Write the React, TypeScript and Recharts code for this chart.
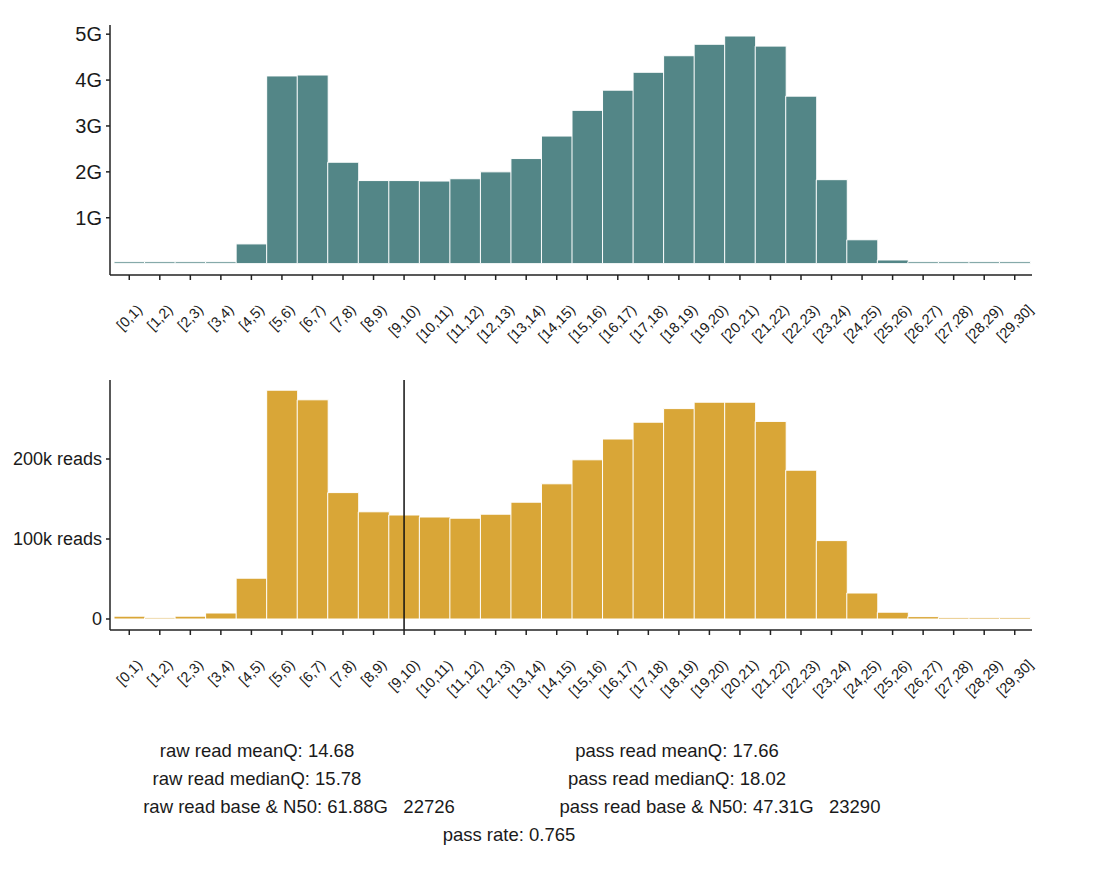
import React from "react";
import { Bar, BarChart, ReferenceLine, XAxis, YAxis } from "recharts";

// quality score bins
const bins = [
  "[0,1)", "[1,2)", "[2,3)", "[3,4)", "[4,5)", "[5,6)", "[6,7)", "[7,8)", "[8,9)", "[9,10)",
  "[10,11)", "[11,12)", "[12,13)", "[13,14)", "[14,15)", "[15,16)", "[16,17)", "[17,18)", "[18,19)", "[19,20)",
  "[20,21)", "[21,22)", "[22,23)", "[23,24)", "[24,25)", "[25,26)", "[26,27)", "[27,28)", "[28,29)", "[29,30]",
];

// raw bases per bin, in G
const rawBasesG = [
  0.04, 0.04, 0.04, 0.04, 0.43, 4.09, 4.11, 2.21, 1.81, 1.81,
  1.8, 1.85, 2.0, 2.29, 2.78, 3.34, 3.78, 4.17, 4.53, 4.78,
  4.96, 4.74, 3.65, 1.83, 0.52, 0.08, 0.04, 0.04, 0.04, 0.04,
];

// pass reads per bin, in thousands
const passReadsK = [
  3.5, 1.5, 3.5, 7.5, 51, 286, 274, 158, 134, 130,
  127.5, 126, 131, 146, 169, 199, 225, 246, 263, 271,
  271, 247, 186, 98, 32.5, 8.5, 3, 2, 2, 2,
];

const baseTicks = [1e9, 2e9, 3e9, 4e9, 5e9];
const readTicks = [0, 100000, 200000];
const cutoffBin = "[9,10)";

const leftNotes = ["raw read meanQ: 14.68", "raw read medianQ: 15.78", "raw read base & N50: 61.88G   22726"];
const rightNotes = ["pass read meanQ: 17.66", "pass read medianQ: 18.02", "pass read base & N50: 47.31G   23290"];
const passRateNote = "pass rate: 0.765";

const data = bins.map((bin, i) => ({
  bin,
  bases: rawBasesG[i] * 1e9,
  reads: passReadsK[i] * 1000,
}));

const FONT = "'Liberation Sans', Arial, Helvetica, sans-serif";
const TEAL = "#538687";
const GOLD = "#D9A637";
const AXIS = "#222";

const narrow: Record<string, number> = { "[": 0.278, "]": 0.278, ")": 0.333, ",": 0.278 };
function labelWidth(s: string, fs: number) {
  let w = 0;
  for (const c of s) w += narrow[c] ?? 0.556;
  return w * fs;
}

function BinTick(props: any) {
  const { x, y, payload } = props;
  const fs = 14.5;
  const w = labelWidth(payload.value, fs);
  const cy = y + 22 + (w + fs) * 0.3536;
  return (
    <text
      x={x}
      y={cy}
      textAnchor="middle"
      dominantBaseline="central"
      transform={`rotate(-45, ${x}, ${cy})`}
      fontSize={fs}
      fontFamily={FONT}
      fill="#1a1a1a"
    >
      {payload.value}
    </text>
  );
}

const noteStyle = { whiteSpace: "pre" as const };

export default function App() {
  return (
    <div style={{ position: "absolute", left: 0, top: 0, width: 1112, height: 888, background: "#fff" }}>
      <div style={{ position: "absolute", left: 0, top: 0 }}>
        <BarChart width={1112} height={360} data={data} margin={{ top: 25, right: 80, bottom: 15, left: 0 }} barCategoryGap={0}>
          <XAxis
            dataKey="bin"
            interval={0}
            tick={<BinTick />}
            tickSize={5}
            tickMargin={0}
            height={70}
            padding={{ left: 4, right: 2 }}
            stroke={AXIS}
            strokeWidth={1.5}
          />
          <YAxis
            width={110}
            domain={[-0.2475e9, 5.2e9]}
            ticks={baseTicks}
            tickFormatter={(v: number) => `${v / 1e9}G`}
            tick={{ fontSize: 20, fontFamily: FONT, fill: "#1a1a1a" }}
            tickSize={4}
            tickMargin={4}
            stroke={AXIS}
            strokeWidth={1.5}
          />
          <Bar dataKey="bases" fill={TEAL} stroke="#fff" strokeWidth={1} isAnimationActive={false} />
        </BarChart>
      </div>
      <div style={{ position: "absolute", left: 0, top: 360 }}>
        <BarChart width={1112} height={360} data={data} margin={{ top: 20, right: 80, bottom: 20, left: 0 }} barCategoryGap={0}>
          <XAxis
            dataKey="bin"
            interval={0}
            tick={<BinTick />}
            tickSize={5}
            tickMargin={0}
            height={70}
            padding={{ left: 4, right: 2 }}
            stroke={AXIS}
            strokeWidth={1.5}
          />
          <YAxis
            width={110}
            domain={[-13750, 298750]}
            ticks={readTicks}
            tickFormatter={(v: number) => (v === 0 ? "0" : `${v / 1000}k reads`)}
            tick={{ fontSize: 18, fontFamily: FONT, fill: "#1a1a1a" }}
            tickSize={4}
            tickMargin={4}
            stroke={AXIS}
            strokeWidth={1.5}
          />
          <Bar dataKey="reads" fill={GOLD} stroke="#fff" strokeWidth={1} isAnimationActive={false} />
          <ReferenceLine x={cutoffBin} stroke="#111" strokeWidth={1.5} />
        </BarChart>
      </div>
      <svg width={1112} height={888} style={{ position: "absolute", left: 0, top: 0, pointerEvents: "none" }}>
        <g fontFamily={FONT} fontSize={18.5} fill="#1a1a1a" textAnchor="middle">
          <text x={257} y={757} style={noteStyle}>{leftNotes[0]}</text>
          <text x={257} y={785} style={noteStyle}>{leftNotes[1]}</text>
          <text x={299} y={813} style={noteStyle}>{leftNotes[2]}</text>
          <text x={677} y={757} style={noteStyle}>{rightNotes[0]}</text>
          <text x={677} y={785} style={noteStyle}>{rightNotes[1]}</text>
          <text x={720} y={813} style={noteStyle}>{rightNotes[2]}</text>
          <text x={509} y={841} style={noteStyle}>{passRateNote}</text>
        </g>
      </svg>
    </div>
  );
}
